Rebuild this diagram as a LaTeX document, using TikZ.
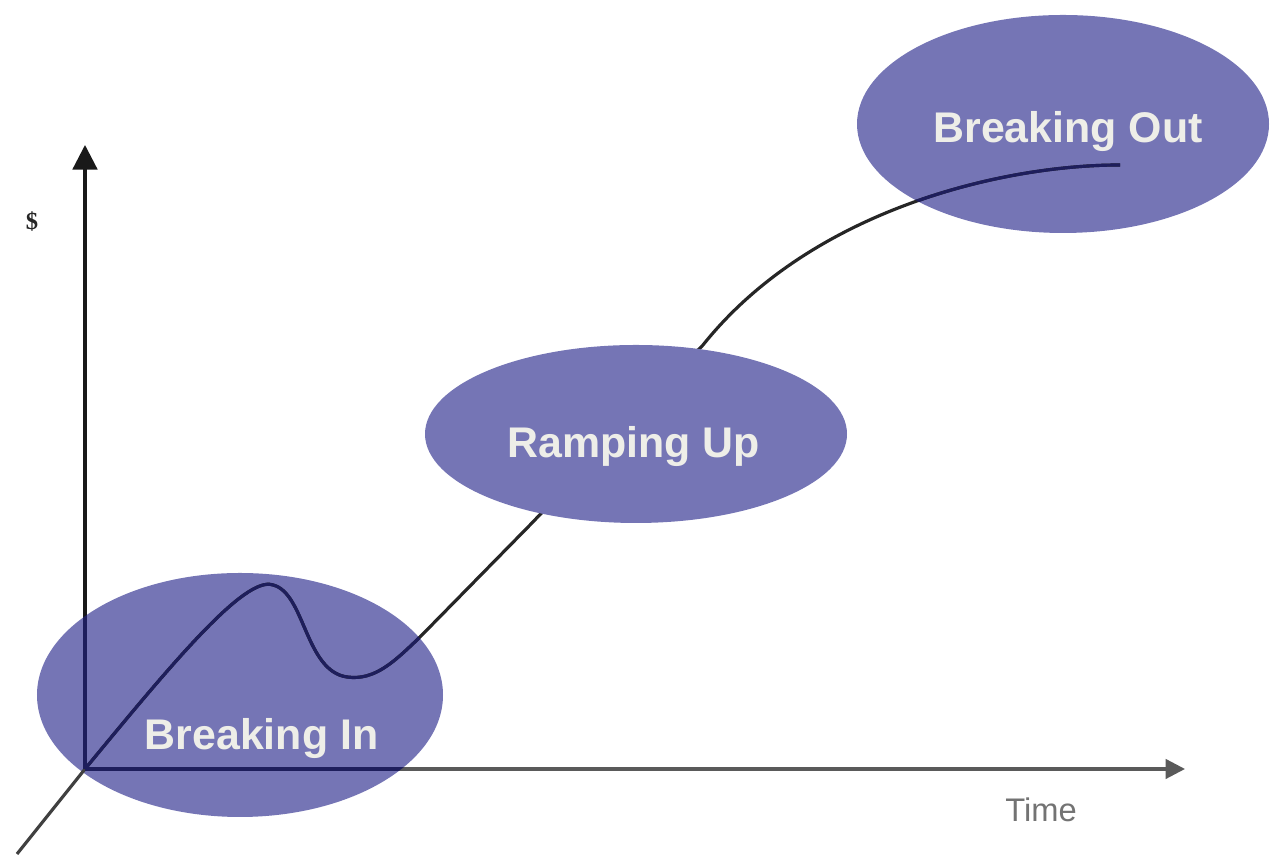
\documentclass[tikz,border=0pt]{standalone}
\usepackage{fontspec}
\setmainfont{Liberation Sans}
\newfontfamily\serifdollar{Liberation Serif}
\usetikzlibrary{arrows.meta,shapes.geometric}
\definecolor{blob}{RGB}{117,117,181}
\definecolor{navy}{RGB}{30,30,92}
\definecolor{lbl}{RGB}{238,238,232}
\definecolor{axisgray}{RGB}{90,90,90}
\tikzset{
  phase/.style={ellipse, fill=blob, draw=none, inner sep=0pt},
  phasetext/.style={anchor=base, text=lbl, font=\fontsize{12.2}{14}\selectfont\bfseries, inner sep=0pt},
  curveline/.style={line width=0.9pt, draw=#1},
  axisline/.style={line width=0.9pt, draw=#1},
}
\newcommand{\growthpath}{(O) .. controls (1.7,1.95) and (2.45,2.86) .. (2.73,2.76)
   .. controls (3.05,2.68) and (3.05,1.9) .. (3.47,1.84)
   .. controls (3.75,1.8) and (3.95,2.0) .. (4.2,2.24)
   -- (5.3,3.36) -- (7.03,5.16)
   .. controls (8.1,6.5) and (10.0,6.96) .. (E)}
\begin{document}
\begin{tikzpicture}
\useasboundingbox (0,0) rectangle (12.7,8.61);
\coordinate (O) at (0.85,0.92);
\coordinate (Ytip) at (0.85,7.16);
\coordinate (Xtip) at (11.85,0.92);
\coordinate (D) at (0.17,0.07);
\coordinate (E) at (11.2,6.96);
% phase ellipses behind the curve
\node[phase, minimum width=4.06cm, minimum height=2.44cm] (e1) at (2.40,1.66) {};
\node[phase, minimum width=4.12cm, minimum height=2.18cm] (e3) at (10.63,7.37) {};
% axes and curve
\draw[axisline=black!90, -{Triangle[width=7pt,length=7pt]}] (O) -- (Ytip);
\draw[axisline=axisgray, -{Triangle[width=5.5pt,length=5.5pt]}] (O) -- (Xtip);
\draw[axisline=black!75] (O) -- (D);
\draw[curveline=black!85] \growthpath;
% darker lines inside the translucent phases
\begin{scope}
  \clip (e1.center) ellipse [x radius=2.03cm, y radius=1.22cm];
  \draw[axisline=navy] (O) -- (Ytip);
  \draw[axisline=navy] (O) -- (Xtip);
  \draw[curveline=navy] \growthpath;
\end{scope}
\begin{scope}
  \clip (e3.center) ellipse [x radius=2.06cm, y radius=1.09cm];
  \draw[curveline=navy] \growthpath;
\end{scope}
% opaque middle phase
\node[phase, minimum width=4.22cm, minimum height=1.78cm] (e2) at (6.36,4.27) {};
% labels
\node[phasetext] (t1) at (2.615,1.11) {Breaking In};
\node[phasetext] (t2) at (6.335,4.03) {Ramping Up};
\node[phasetext] (t3) at (10.68,7.18) {Breaking Out};
\node[anchor=base, text=black!55, font=\fontsize{9.3}{11}\selectfont, inner sep=0pt] (time) at (10.41,0.39) {Time};
\node[text=black!85, font=\serifdollar\fontsize{7}{8}\selectfont\bfseries, inner sep=0pt] (dollar) at (0.32,6.39) {\$};
\end{tikzpicture}
\end{document}
